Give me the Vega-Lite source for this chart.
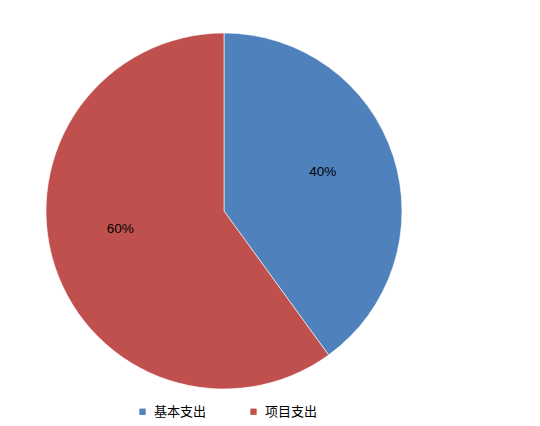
{
  "$schema": "https://vega.github.io/schema/vega-lite/v6.json",
  "width": 448,
  "height": 422,
  "padding": 0,
  "background": "white",
  "data": {
    "values": [
      {"category": "基本支出", "share": 40, "label": "40%"},
      {"category": "项目支出", "share": 60, "label": "60%"}
    ]
  },
  "encoding": {
    "theta": {"field": "share", "type": "quantitative", "stack": true},
    "color": {
      "field": "category",
      "type": "nominal",
      "sort": ["基本支出", "项目支出"],
      "scale": {"domain": ["基本支出", "项目支出"], "range": ["#4F81BD", "#C0504D"]},
      "legend": {
        "title": null,
        "orient": "none",
        "direction": "horizontal",
        "legendX": 136,
        "legendY": 405,
        "symbolType": "square",
        "symbolSize": 40,
        "symbolStrokeWidth": 0,
        "labelFont": "Noto Sans CJK SC",
        "labelFontSize": 13,
        "labelColor": "#000000",
        "labelOffset": 5,
        "columnPadding": 40
      }
    }
  },
  "layer": [
    {
      "mark": {"type": "arc", "outerRadius": 178, "stroke": "#ffffff", "strokeWidth": 0.6}
    },
    {
      "mark": {"type": "text", "radius": 106, "dx": -2, "dy": -6, "font": "Liberation Sans", "fontSize": 13.5},
      "encoding": {
        "text": {"field": "label"},
        "color": {"value": "#000000"},
        "opacity": {"condition": {"test": "datum.label == '40%'", "value": 1}, "value": 0}
      }
    },
    {
      "mark": {"type": "text", "radius": 106, "dx": -3, "dy": -15, "font": "Liberation Sans", "fontSize": 13.5},
      "encoding": {
        "text": {"field": "label"},
        "color": {"value": "#000000"},
        "opacity": {"condition": {"test": "datum.label == '60%'", "value": 1}, "value": 0}
      }
    }
  ],
  "view": {"stroke": null},
  "config": {"font": "Noto Sans CJK SC"}
}
